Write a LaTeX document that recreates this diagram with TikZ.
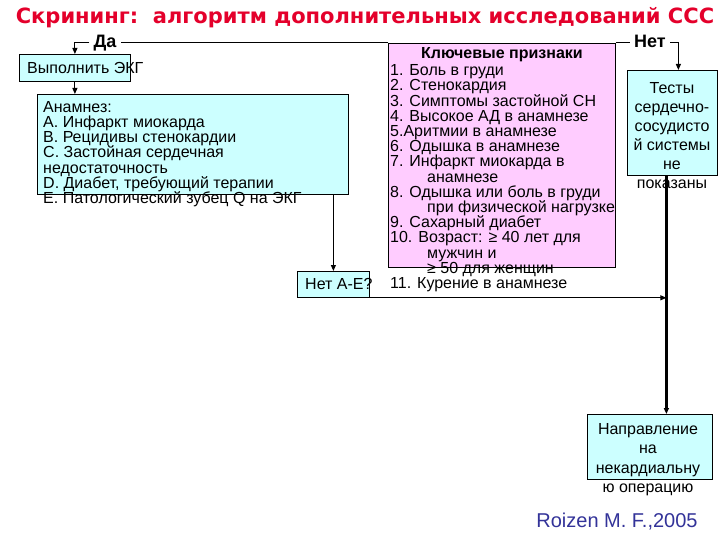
\documentclass[tikz,border=0pt]{standalone}
\usepackage{fontspec}
\setmainfont{Liberation Sans}
\newfontfamily\titlefont{DejaVu Sans}
\usetikzlibrary{arrows.meta}
\definecolor{cyanbox}{HTML}{CCFFFF}
\definecolor{pinkbox}{HTML}{FFCCFF}
\definecolor{titlered}{HTML}{E4002B}
\definecolor{refblue}{HTML}{333399}
\lineskiplimit=-20pt
\begin{document}
\begin{tikzpicture}[x=1pt,y=-1pt,
  box/.style={draw=black, line width=0.8pt, inner sep=0pt, anchor=north west},
  cbox/.style={box, fill=cyanbox},
  pbox/.style={box, fill=pinkbox},
  conn/.style={line width=1pt},
  arr/.style={conn, -{Triangle[length=6pt,width=5pt]}},
  thickarr/.style={line width=2.2pt, -{Triangle[length=6pt,width=5pt]}},
  txt/.style={inner sep=0pt, font=\fontsize{16}{15.2}\selectfont},
  lbl/.style={inner sep=4pt, font=\fontsize{18}{20}\selectfont\bfseries},
]
\useasboundingbox[fill=white] (0,0) rectangle (720,540);

% title
\node[inner sep=0pt, text=titlered, font=\titlefont\bfseries\fontsize{21}{24}\selectfont] (title) at (365,18)
  {Скрининг:\ \ алгоритм дополнительных исследований ССС};

% boxes
\node[cbox, minimum width=111pt, minimum height=27pt] (ekg) at (19,54) {};
\node[cbox, minimum width=311pt, minimum height=100pt] (anam) at (37,94) {};
\node[cbox, minimum width=72pt, minimum height=26pt] (noae) at (297,271) {};
\node[pbox, minimum width=227pt, minimum height=224pt] (key) at (388,43) {};
\node[cbox, minimum width=90pt, minimum height=105pt] (tests) at (627,70) {};
\node[cbox, minimum width=125pt, minimum height=65pt] (napr) at (587,414) {};

% labels
\node[lbl, anchor=base] (da) at (105,48) {Да};
\node[lbl, anchor=base] (net) at (650,48) {Нет};

% texts
\node[txt, anchor=base west] (ekgt) at (27,74) {Выполнить ЭКГ};
\node[txt, anchor=north west, align=left] (anamt) at (43,99) {\rule{0pt}{13pt}Анамнез:\\
А. Инфаркт миокарда\\
В. Рецидивы стенокардии\\
С. Застойная сердечная\\
недостаточность\\
D. Диабет, требующий терапии\\
Е. Патологический зубец Q на ЭКГ};
\node[txt, anchor=base west] (noaet) at (305,289) {Нет А-Е?};
\node[txt, anchor=base, font=\fontsize{16}{15.2}\selectfont\bfseries] (keyh) at (502,58.5) {Ключевые признаки};
\node[txt, anchor=north west, align=left] (keyt) at (390,62.5) {\rule{0pt}{13pt}1. Боль в груди\\
2. Стенокардия\\
3. Симптомы застойной СН\\
4. Высокое АД в анамнезе\\
5.Аритмии в анамнезе\\
6. Одышка в анамнезе\\
7. Инфаркт миокарда в\\
\hspace*{37pt}анамнезе\\
8. Одышка или боль в груди\\
\hspace*{37pt}при физической нагрузке\\
9. Сахарный диабет\\
10. Возраст: ≥ 40 лет для\\
\hspace*{37pt}мужчин и\\
\hspace*{37pt}≥ 50 для женщин\\
11. Курение в анамнезе};
\node[txt, anchor=north, align=center, font=\fontsize{16}{19}\selectfont] (testst) at (672,80)
  {\rule{0pt}{13pt}Тесты\\сердечно-\\сосудисто\\й системы\\не\\показаны};
\node[txt, anchor=north, align=center, font=\fontsize{16}{19.5}\selectfont] (naprt) at (648,421)
  {\rule{0pt}{13pt}Направление\\на\\некардиальну\\ю операцию};
\node[inner sep=0pt, anchor=base, text=refblue, font=\fontsize{20}{22}\selectfont] (ref) at (617,527) {Roizen M. F.,2005};

% connectors
\coordinate (vx) at ([xshift=-6pt]tests.south);
\draw[conn] (key.north west) -- (key.north west -| da.east);
\draw[arr] (da.west |- key.north) -| (ekg.north);
\draw[arr] (ekg.south) -- (ekg.south |- anam.north);
\draw[arr] (noae.north |- anam.south) -- (noae.north);
\draw[conn] (key.north east) -- (key.north east -| net.west);
\draw[arr] (net.east |- key.north) -| ([xshift=6pt]tests.north);
\draw[thickarr] (vx) -- (vx |- napr.north);
\draw[arr] (noae.south east) -- (noae.south east -| vx);
\end{tikzpicture}
\end{document}
